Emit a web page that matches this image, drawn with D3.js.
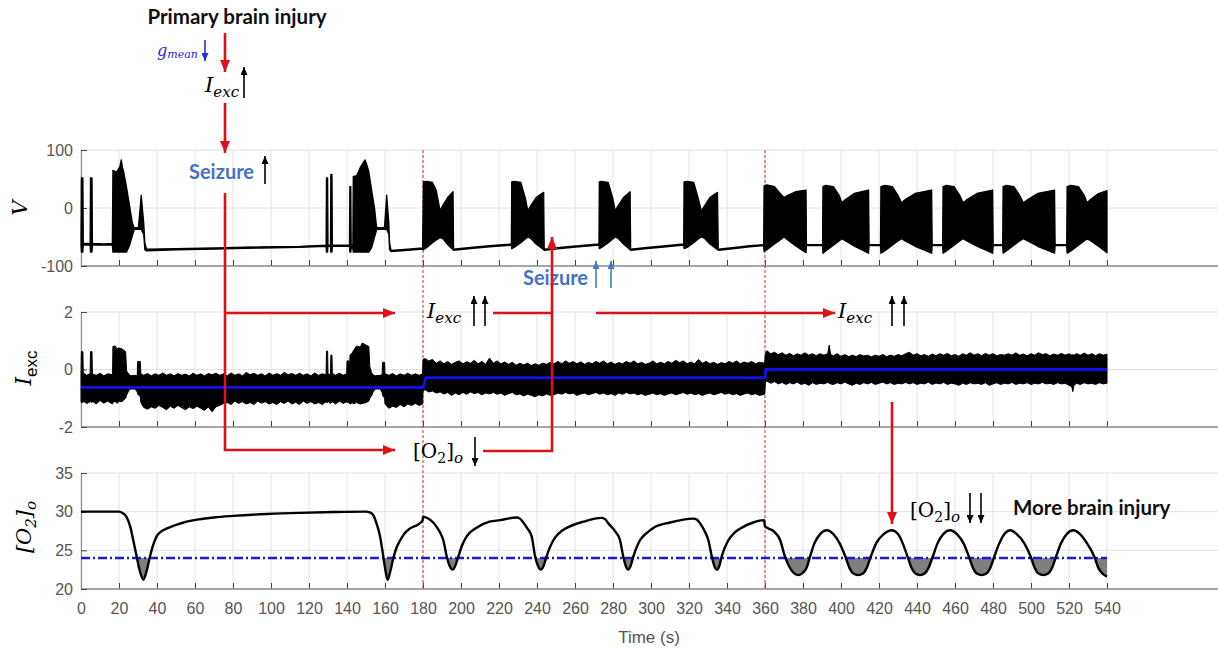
<!DOCTYPE html>
<html><head><meta charset="utf-8">
<script src="https://cdn.jsdelivr.net/npm/d3@7"></script>
<style>body{margin:0;background:#fff}svg{display:block}</style>
</head><body>
<svg id="c" width="1218" height="651"></svg>
<script>
// ---------------- DATA ----------------
const timeTicks = [0,20,40,60,80,100,120,140,160,180,200,220,240,260,280,300,320,340,360,380,400,420,440,460,480,500,520,540];
const vTicks = [-100,0,100];
const iTicks = [-2,0,2];
const o2Ticks = [20,25,30,35];
const phaseMarks = [180,360];
const o2Threshold = 24;

// V trace envelope: [time, upper, lower]
const vEnvelope = [
 [0,-61,-64],[0.2,52,-76],[1.0,52,-76],[1.2,-61,-64],[4.8,-61,-64],[5.0,52,-76],[5.8,52,-76],[6.0,-61,-64],[12,-62,-64],[16.5,-61,-64],
 [16.8,65,-76],[18.5,62,-76],[19.5,66,-76],[20.5,72,-76],[21.2,83,-76],[21.8,70,-76],[22.5,62,-76],[24,35,-76],[25.5,5,-65],[27,-25,-48],[28,-34,-37],
 [30.2,-34,-37],[31.7,22,-37],[33,-25,-45],[33.6,-60,-72],[34.5,-71,-74],
 [50,-70,-72],[70,-69,-71],[95,-67,-69],[115,-66,-68],[129,-64,-66],
 [129.2,52,-76],[129.8,52,-76],[130,-64,-66],[131.3,-64,-66],[131.5,58,-76],[132.1,58,-76],[132.3,-64,-66],
 [138,-64,-66],[141.3,-64,-66],[141.5,37,-76],[142,37,-76],[142.2,-64,-70],[143.1,-64,-70],
 [143.3,54,-76],[145,56,-76],[146,62,-76],[147,70,-76],[148.5,78,-76],[149.5,83,-76],[150.5,74,-76],[151.5,62,-76],[153,30,-68],[154.5,0,-50],[155.6,-34,-37],
 [159.7,-34,-37],[160.9,22,-37],[162,-25,-45],[162.4,-60,-72],[163.2,-73,-75],[172,-71,-73],[179.8,-69,-71],
 [180.2,45,-72],[182,46,-68],[185,44,-60],[187,30,-55],[189,-5,-51],[190.5,5,-53],[193,18,-63],[195.8,28,-72],[196.1,-71,-73],
 [205,-68,-70],[215,-65,-67],[226.5,-62,-64],
 [226.7,45,-70],[228,46,-68],[231.5,44,-60],[234,15,-53],[235.2,-5,-50],[236.5,3,-52],[239.5,18,-62],[243.5,27,-72],[243.8,-71,-73],
 [252,-68,-70],[262,-65,-67],[272.6,-62,-64],
 [272.8,45,-70],[274,46,-68],[277.5,44,-60],[280,15,-53],[281.2,-5,-50],[282.5,3,-52],[285.5,18,-62],[289,28,-72],[289.3,-71,-73],
 [298,-68,-70],[308,-65,-67],[317.2,-62,-64],
 [317.4,45,-70],[319,46,-68],[322.5,44,-60],[325,15,-53],[326.5,-5,-50],[328,3,-52],[331,18,-62],[335,27,-72],[335.4,-71,-73],
 [344,-68,-70],[352,-65,-67],[359.3,-63,-65],
 [359.5,38,-75],[361,40,-72],[365,37,-62],[368,25,-55],[370,18,-50],[372,22,-55],[376,28,-65],[381.6,31,-77],[381.8,-63,-65],
 [390.3,-63,-65],
 [390.5,37,-78],[392,39,-74],[396,37,-64],[399,22,-57],[400.5,9,-53],[402.5,15,-57],[407,25,-66],[414.5,31,-78],[414.8,-63,-65],
 [420.8,-63,-65],
 [421,37,-78],[423,39,-74],[427,37,-64],[430,22,-57],[431.8,9,-53],[434,15,-57],[439,25,-66],[447.7,31,-78],[448,-63,-65],
 [453.5,-63,-65],
 [453.7,37,-78],[455.5,39,-74],[459.5,37,-64],[462.5,22,-57],[464.2,9,-53],[466.5,15,-57],[471.5,25,-66],[479.8,31,-78],[480.1,-63,-65],
 [485.1,-63,-65],
 [485.3,37,-78],[487,39,-74],[491,37,-64],[494,22,-57],[496,9,-53],[498.5,15,-57],[503.5,25,-66],[512.4,31,-78],[512.7,-63,-65],
 [518.8,-63,-65],
 [519,37,-78],[521,39,-74],[525,37,-64],[528,22,-57],[529.5,9,-53],[531.5,15,-57],[535.5,25,-66],[540,30,-77]
];

// I_exc envelope: [time, upper, lower]
const iEnvelope = [
 [0,-0.15,-1.12],[0.2,0.62,-1.15],[1.0,0.62,-1.15],[1.2,-0.12,-1.1],[3,-0.2,-1.18],[4.8,-0.14,-1.12],[5.0,0.62,-1.12],[5.8,0.62,-1.15],[6.0,-0.16,-1.1],[8,-0.2,-1.2],[10,-0.13,-1.08],[12,-0.22,-1.17],[14,-0.15,-1.1],[16.6,-0.18,-1.2],
 [16.8,0.8,-1.15],[18,0.82,-1.1],[19,0.72,-1.18],[20,0.75,-1.1],[21.5,0.72,-1.12],[23.5,0.62,-1.0],[24,-0.05,-0.9],[25,-0.15,-0.75],[26,-0.22,-0.68],[28.5,-0.2,-0.68],[29.6,-0.22,-0.78],[29.8,0.28,-0.85],[31.2,0.28,-0.95],[31.5,-0.15,-1.15],
 [33,-0.2,-1.32],[35,-0.14,-1.38],[37,-0.22,-1.3],[39,-0.15,-1.35],[41,-0.2,-1.25],[43,-0.12,-1.32],[45,-0.2,-1.4],[47,-0.15,-1.28],[49,-0.22,-1.35],[51,-0.14,-1.25],[53,-0.2,-1.33],[55,-0.16,-1.4],[57,-0.22,-1.3],[59,-0.13,-1.36],[61,-0.2,-1.28],[63,-0.15,-1.35],[65,-0.22,-1.42],[67,-0.14,-1.3],[69,-0.18,-1.47],[71,-0.13,-1.3],[73,-0.2,-1.25],[75,-0.15,-1.18],
 [77,-0.22,-1.15],[79,-0.12,-1.22],[81,-0.2,-1.1],[83,-0.15,-1.18],[85,-0.22,-1.12],[87,-0.1,-1.2],[89,-0.18,-1.15],[91,-0.13,-1.22],[93,-0.2,-1.1],[95,-0.15,-1.17],[97,-0.22,-1.12],[99,-0.12,-1.2],[101,-0.2,-1.15],[103,-0.14,-1.22],[105,-0.2,-1.12],[107,-0.1,-1.18],[109,-0.18,-1.1],[111,-0.14,-1.2],[113,-0.2,-1.14],[115,-0.13,-1.22],[117,-0.2,-1.1],[119,-0.15,-1.18],[121,-0.22,-1.12],[123,-0.12,-1.2],[125,-0.2,-1.15],[127,-0.15,-1.22],[129,-0.18,-1.12],
 [129.2,0.64,-1.15],[129.8,0.64,-1.15],[130,-0.15,-1.1],[131.3,-0.18,-1.18],[131.5,0.5,-1.15],[132.1,0.5,-1.15],[132.3,-0.14,-1.12],[134,-0.2,-1.2],[136,-0.13,-1.1],[138,-0.2,-1.18],[139.8,-0.15,-1.12],[140,0.3,-1.15],[141,0.3,-1.15],[141.2,-0.15,-1.18],[141.6,0.5,-1.2],[143,0.6,-1.15],[143.3,0.65,-1.2],[145,0.82,-1.15],[147,0.78,-1.2],[148,0.92,-1.18],[150,0.85,-1.15],[151.5,0.8,-1.1],[152,0.1,-1.0],[153,-0.12,-0.9],[154,-0.2,-0.75],[155,-0.22,-0.68],[157.5,-0.2,-0.68],[158.5,-0.18,-0.8],[158.7,0.25,-0.9],[159.8,0.25,-1.0],[160,-0.15,-1.2],
 [162,-0.2,-1.35],[164,-0.14,-1.28],[166,-0.22,-1.32],[168,-0.15,-1.22],[170,-0.2,-1.3],[172,-0.13,-1.2],[174,-0.2,-1.25],[176,-0.15,-1.18],[178,-0.2,-1.25],[179.8,-0.15,-1.2],
 [180,0.35,-0.75],[181,0.38,-0.7],[183,0.3,-0.78],[185,0.35,-0.75],[187,0.22,-0.82],[189,0.3,-0.78],[191,0.2,-0.85],[193,0.28,-0.8],[195,0.18,-0.9],[197,0.25,-0.82],[199,0.3,-0.88],[201,0.2,-0.8],[203,0.27,-0.86],[205,0.22,-0.78],[207,0.32,-0.84],[209,0.2,-0.8],[211,0.28,-0.88],[213,0.18,-0.82],[215,0.4,-0.85],[217,0.22,-0.8],[219,0.3,-0.86],[221,0.2,-0.82],[223,0.26,-0.9],[225,0.18,-0.84],[227,0.25,-0.8],[229,0.15,-0.88],[231,0.22,-0.85],[233,0.16,-0.92],[235,0.22,-0.86],[237,0.14,-0.9],[239,0.2,-0.95],[241,0.15,-0.88],[243,0.22,-0.92],[245,0.18,-0.85],[247,0.25,-0.9],[249,0.2,-0.88],[251,0.28,-0.82],[253,0.2,-0.86],[255,0.3,-0.8],[257,0.22,-0.85],[259,0.28,-0.82],[261,0.2,-0.9],[263,0.27,-0.85],[265,0.18,-0.82],[267,0.25,-0.88],[269,0.2,-0.84],[271,0.28,-0.8],[273,0.22,-0.86],[275,0.3,-0.82],[277,0.2,-0.88],[279,0.26,-0.84],[281,0.18,-0.9],[283,0.24,-0.82],[285,0.2,-0.86],[287,0.28,-0.8],[289,0.22,-0.85],[291,0.3,-0.82],[293,0.2,-0.88],[295,0.25,-0.84],[297,0.18,-0.9],[299,0.22,-0.86],[301,0.3,-0.82],[303,0.2,-0.88],[305,0.25,-0.84],[307,0.2,-0.9],[309,0.28,-0.85],[311,0.22,-0.82],[313,0.32,-0.88],[315,0.24,-0.84],[317,0.3,-0.8],[319,0.2,-0.86],[321,0.26,-0.82],[323,0.2,-0.88],[325,0.35,-0.84],[327,0.22,-0.9],[329,0.28,-0.85],[331,0.2,-0.82],[333,0.25,-0.88],[335,0.18,-0.84],[337,0.24,-0.8],[339,0.2,-0.86],[341,0.28,-0.82],[343,0.22,-0.88],[345,0.3,-0.84],[347,0.2,-0.9],[349,0.26,-0.85],[351,0.22,-0.82],[353,0.28,-0.88],[355,0.2,-0.84],[357,0.25,-0.9],[359.8,0.22,-0.86],
 [360.2,0.55,-0.45],[361,0.65,-0.4],[363,0.55,-0.48],[365,0.6,-0.42],[367,0.52,-0.5],[369,0.58,-0.45],[371,0.5,-0.52],[373,0.56,-0.46],[375,0.48,-0.5],[377,0.55,-0.44],[379,0.5,-0.52],[381,0.58,-0.48],[383,0.5,-0.55],[385,0.55,-0.46],[387,0.48,-0.52],[389,0.55,-0.48],[391,0.5,-0.5],[393,0.55,-0.45],[393.8,0.85,-0.48],[394.5,0.52,-0.5],[396,0.48,-0.52],[398,0.55,-0.46],[400,0.46,-0.5],[402,0.52,-0.44],[404,0.45,-0.5],[406,0.5,-0.55],[408,0.45,-0.48],[410,0.52,-0.52],[412,0.47,-0.46],[414,0.5,-0.5],[416,0.44,-0.45],[418,0.5,-0.52],[420,0.46,-0.48],[422,0.52,-0.44],[424,0.45,-0.5],[426,0.5,-0.46],[428,0.46,-0.52],[430,0.52,-0.48],[432,0.48,-0.5],[434,0.55,-0.45],[436,0.6,-0.5],[438,0.5,-0.46],[440,0.55,-0.52],[442,0.48,-0.48],[444,0.52,-0.5],[446,0.46,-0.44],[448,0.54,-0.52],[450,0.48,-0.47],[452,0.55,-0.5],[454,0.5,-0.45],[456,0.56,-0.52],[458,0.48,-0.48],[460,0.52,-0.5],[462,0.46,-0.55],[464,0.55,-0.48],[466,0.5,-0.52],[468,0.58,-0.46],[470,0.5,-0.5],[472,0.55,-0.48],[474,0.48,-0.52],[476,0.56,-0.46],[478,0.5,-0.55],[480,0.55,-0.5],[482,0.48,-0.46],[484,0.52,-0.52],[486,0.5,-0.48],[488,0.55,-0.5],[490,0.5,-0.45],[492,0.58,-0.52],[494,0.5,-0.48],[496,0.54,-0.5],[498,0.48,-0.46],[500,0.55,-0.52],[502,0.5,-0.48],[504,0.58,-0.5],[506,0.52,-0.45],[508,0.55,-0.5],[510,0.48,-0.48],[512,0.54,-0.52],[514,0.5,-0.46],[516,0.56,-0.5],[518,0.5,-0.48],[520,0.55,-0.55],[521.5,0.5,-0.6],[522,0.52,-0.77],[522.6,0.5,-0.55],[524,0.55,-0.48],[526,0.5,-0.52],[528,0.57,-0.46],[530,0.5,-0.5],[532,0.55,-0.48],[534,0.48,-0.52],[536,0.55,-0.46],[538,0.5,-0.5],[540,0.53,-0.48]
];

// mean of I_exc (blue line): [time, value]
const iMean = [[0,-0.62],[180,-0.62],[181.5,-0.28],[360,-0.28],[360.3,0],[540,0]];

// extracellular oxygen: [time, value]
const o2Series = [
 [0,30],[20,30],[22,29.8],[24,29.3],[26,28],[27.5,26.3],[29.3,24.2],[31,22.3],[32.8,21.2],[34.5,22.3],[36.3,24.2],[38,25.7],[39.8,26.8],[42,27.4],[45,27.8],[50,28.3],[54,28.6],[62,29.0],[70,29.25],[80,29.45],[98,29.7],[115,29.85],[133,29.95],[150,30],
 [152,29.9],[154,29.5],[155.5,28.5],[157.4,26.8],[159.1,24.2],[160.3,22.3],[161.4,21.2],[162.8,22.3],[164.4,24],[166,25.3],[168,26.3],[170,27.1],[173,27.8],[178.4,28.5],[179.8,28.9],
 [180,29.35],[181,29.3],[184,28.9],[187,28.1],[189,27.3],[190.7,26.3],[192.5,24.2],[194,23],[195.6,22.5],[197,23],[198.6,24.2],[200.5,25.6],[203,26.8],[208,27.9],[215,28.7],[220.5,28.9],[229.3,29.25],
 [231,29.1],[232.8,28.6],[235,27.8],[237.2,26.8],[239,24.2],[240.5,23],[242,22.5],[243.5,23],[245,24.2],[248.6,26.3],[252,27.3],[255.6,27.9],[264.4,28.7],[274,29.2],
 [276,29],[277.5,28.5],[281,27.5],[283.7,26.3],[285.4,24.2],[286.7,23],[288,22.5],[289.3,23],[290.7,24.2],[294.2,26.3],[298,27.3],[301.2,27.9],[310,28.6],[322.3,29.1],
 [324,29],[325.8,28.5],[328,27.6],[330.2,26.3],[332,24.2],[333.3,23],[334.6,22.5],[336,23],[337.2,24.2],[340.7,26.3],[344,27.3],[346.8,27.8],[353.8,28.6],[359.5,28.9],
 [360,28.1],[362,27.8],[364.4,27.5],[368,26.3],[370.5,24.2],[373,22.8],[375,22.1],[377.5,21.8],[380,22.1],[382,22.8],[383.7,24.2],[386,25.9],[389,27.1],[392.5,27.6],[396,27.1],[399.3,25.9],[402.3,24.2],[404.5,22.7],[406.5,22],[409,21.8],[411.5,22],[413.5,22.7],[415.7,24.2],[418.5,25.9],[422.5,27.1],[426.7,27.6],[430,27.1],[432.5,25.9],[435,24.2],[437.2,22.7],[439.2,22],[441.6,21.8],[444,22],[446,22.7],[448.3,24.2],[450.8,25.9],[453.8,27.1],[457.4,27.6],[461,27.1],[464.5,25.9],[467.3,24.2],[469.5,22.7],[471.5,22],[474,21.8],[476.5,22],[478.5,22.7],[480.7,24.2],[483.3,25.9],[486,27.1],[489,27.6],[492.5,27.1],[496.5,25.9],[499.8,24.2],[502,22.7],[504,22],[506.5,21.8],[509,22],[511,22.7],[513.2,24.2],[515.8,25.9],[518.8,27.1],[522.3,27.6],[525.8,27.1],[529.5,25.9],[533.3,24.2],[535.5,22.7],[537.7,22],[540,21.6]
];

// ---------------- LAYOUT ----------------
const W = 1218, H = 651, LEFT = 81, RIGHT = 1218;
const svg = d3.select('#c');
const x = d3.scaleLinear().domain([0,540]).range([LEFT,1107]);
const yV = d3.scaleLinear().domain([-100,100]).range([266,150]);
const yI = d3.scaleLinear().domain([-2,2]).range([427,312]);
const yO = d3.scaleLinear().domain([20,35]).range([589,473]);
const fmt = d => String(d); // plain hyphen-minus, integer labels

const defs = svg.append('defs');
function marker(id, len, wid, color){
  defs.append('marker').attr('id',id).attr('markerUnits','userSpaceOnUse')
    .attr('markerWidth',len).attr('markerHeight',wid).attr('refX',len).attr('refY',wid/2)
    .attr('orient','auto').append('path').attr('d',`M0,0L${len},${wid/2}L0,${wid}Z`).attr('fill',color);
}
const RED = '#e01018';
marker('rh',12,10,RED);
marker('bh',8,7,'#000');
marker('gh',8,7,'#2a2ae0');
marker('sh',8,7,'#4a78c8');

function frame(y, ticks, showLabels){
  const [b,t] = y.range();
  const g = svg.append('g');
  g.selectAll('line.vg').data(timeTicks).join('line').attr('class','vg')
    .attr('x1',d=>x(d)).attr('x2',d=>x(d)).attr('y1',t).attr('y2',b).attr('stroke','#e2e2e2');
  g.selectAll('line.hg').data(ticks).join('line').attr('class','hg')
    .attr('x1',LEFT).attr('x2',RIGHT).attr('y1',d=>y(d)).attr('y2',d=>y(d)).attr('stroke','#e2e2e2');
  const ax = g.append('g').attr('transform',`translate(0,${b})`)
    .call(d3.axisBottom(x).tickValues(timeTicks).tickSizeInner(-6).tickSizeOuter(0).tickPadding(14)
      .tickFormat(showLabels ? fmt : ()=>''));
  ax.select('.domain').remove();
  ax.selectAll('line').attr('stroke','#444');
  ax.selectAll('text').attr('font-size',16).attr('font-family','Liberation Sans, Arial, sans-serif').attr('fill','#555');
  g.append('line').attr('x1',LEFT).attr('x2',RIGHT).attr('y1',b).attr('y2',b).attr('stroke','#8c8c8c').attr('stroke-width',1.6);
  const ay = g.append('g').attr('transform',`translate(${LEFT},0)`)
    .call(d3.axisLeft(y).tickValues(ticks).tickSizeInner(-6).tickSizeOuter(0).tickPadding(8).tickFormat(fmt));
  ay.select('.domain').attr('stroke','#8c8c8c').attr('stroke-width',1.2);
  ay.selectAll('line').attr('stroke','#444');
  ay.selectAll('text').attr('font-size',16).attr('font-family','Liberation Sans, Arial, sans-serif').attr('fill','#555');
}
frame(yV, vTicks, false);
frame(yI, iTicks, false);
frame(yO, o2Ticks, true);

// phase markers (red dotted)
svg.selectAll('line.pm').data(phaseMarks).join('line').attr('class','pm')
  .attr('x1',d=>x(d)).attr('x2',d=>x(d)).attr('y1',yV.range()[1]).attr('y2',yO.range()[0])
  .attr('stroke','#c0392b').attr('stroke-width',1).attr('stroke-dasharray','3,2');

// V panel
const areaV = d3.area().x(d=>x(d[0])).y0(d=>yV(d[2])).y1(d=>yV(d[1]));
svg.append('path').datum(vEnvelope).attr('d',areaV).attr('fill','#000').attr('stroke','#000')
  .attr('stroke-width',1.3).attr('stroke-linejoin','round');

// I_exc panel
const areaI = d3.area().x(d=>x(d[0])).y0(d=>yI(d[2])).y1(d=>yI(d[1]));
svg.append('path').datum(iEnvelope).attr('d',areaI).attr('fill','#000').attr('stroke','#000')
  .attr('stroke-width',1).attr('stroke-linejoin','round');
svg.append('path').datum(iMean).attr('d',d3.line().x(d=>x(d[0])).y(d=>yI(d[1])))
  .attr('fill','none').attr('stroke','#1010f0').attr('stroke-width',2.8);

// O2 panel
defs.append('clipPath').attr('id','below').append('rect')
  .attr('x',LEFT).attr('width',RIGHT-LEFT).attr('y',yO(o2Threshold)).attr('height',yO(20)-yO(o2Threshold));
const areaO = d3.area().x(d=>x(d[0])).y0(yO(o2Threshold)).y1(d=>yO(d[1])).curve(d3.curveMonotoneX);
svg.append('path').datum(o2Series).attr('d',areaO).attr('fill','#7f7f7f').attr('clip-path','url(#below)');
svg.append('line').attr('x1',x(0)).attr('x2',x(540)).attr('y1',yO(o2Threshold)).attr('y2',yO(o2Threshold))
  .attr('stroke','#1a1ad8').attr('stroke-width',2.6).attr('stroke-dasharray','9,3,2,3');
svg.append('path').datum(o2Series).attr('d',d3.line().x(d=>x(d[0])).y(d=>yO(d[1])).curve(d3.curveMonotoneX))
  .attr('fill','none').attr('stroke','#000').attr('stroke-width',2.4);

// Axis titles
const SERIF = 'DejaVu Serif, serif';
svg.append('text').attr('transform','translate(27,208) rotate(-90)').attr('text-anchor','middle')
  .attr('font-family',SERIF).attr('font-style','italic').attr('font-size',21).text('V');
const tI = svg.append('text').attr('transform','translate(31,368) rotate(-90)').attr('text-anchor','middle');
tI.append('tspan').attr('font-family',SERIF).attr('font-style','italic').attr('font-size',22).text('I');
tI.append('tspan').attr('font-family','Liberation Sans, Arial').attr('font-size',17).attr('dy',6).text('exc');
const tO = svg.append('text').attr('transform','translate(31,527) rotate(-90)').attr('text-anchor','middle')
  .attr('font-family',SERIF).attr('font-style','italic').attr('font-size',21);
tO.append('tspan').text('[O');
tO.append('tspan').attr('font-size',15).attr('dy',5).text('2');
tO.append('tspan').attr('dy',-5).text(']');
tO.append('tspan').attr('font-size',15).attr('dy',5).text('o');
svg.append('text').attr('x',649).attr('y',643).attr('text-anchor','middle')
  .attr('font-family','Liberation Sans, Arial').attr('font-size',17).attr('fill','#555').text('Time (s)');

// ---------------- ANNOTATIONS ----------------
function bold(txt, xx, yy, color, size, anchor){
  svg.append('text').attr('x',xx).attr('y',yy).attr('text-anchor',anchor||'start')
    .attr('font-family','Lato, Open Sans, sans-serif').attr('font-weight',700)
    .attr('font-size',size).attr('fill',color).text(txt);
}
function iexc(xx, yy){
  const t = svg.append('text').attr('x',xx).attr('y',yy).attr('font-family',SERIF).attr('font-style','italic');
  t.append('tspan').attr('font-size',21).text('I');
  t.append('tspan').attr('font-size',15).attr('dy',5).text('exc');
}
function o2(xx, yy){
  const t = svg.append('text').attr('x',xx).attr('y',yy).attr('font-family',SERIF).attr('font-size',20);
  t.append('tspan').text('[O');
  t.append('tspan').attr('font-size',14).attr('dy',5).text('2');
  t.append('tspan').attr('dy',-5).text(']');
  t.append('tspan').attr('font-size',15).attr('dy',5).attr('font-style','italic').text('o');
}
function arrow(x1,y1,x2,y2,m,color,w){
  svg.append('line').attr('x1',x1).attr('y1',y1).attr('x2',x2).attr('y2',y2)
    .attr('stroke',color).attr('stroke-width',w).attr('marker-end',`url(#${m})`);
}

bold('Primary brain injury', 237, 24, '#111', 20.5, 'middle');
const gm = svg.append('text').attr('x',157).attr('y',56).attr('font-family',SERIF).attr('font-style','italic').attr('fill','#2a2ae0');
gm.append('tspan').attr('font-size',16).text('g');
gm.append('tspan').attr('font-size',11).attr('dy',2).text('mean');
arrow(205,40,205,61,'gh','#2a2ae0',1.6);
iexc(205,92);
arrow(244,98,244,67,'bh','#000',1.6);
bold('Seizure', 189, 179, '#4472c4', 20);
arrow(265,184,265,156,'bh','#000',1.6);
iexc(427,318);
arrow(474,326,474,296,'bh','#000',1.6);
arrow(485,326,485,296,'bh','#000',1.6);
o2(413,458);
arrow(475,437,475,466,'bh','#000',1.6);
bold('Seizure', 523, 285, '#4472c4', 20);
arrow(596,288,596,261,'sh','#4a78c8',1.6);
arrow(611,288,611,261,'sh','#4a78c8',1.6);
iexc(838,318);
arrow(892,326,892,296,'bh','#000',1.6);
arrow(904,326,904,296,'bh','#000',1.6);
o2(910,517);
arrow(970,493,970,523,'bh','#000',1.6);
arrow(981,493,981,523,'bh','#000',1.6);
bold('More brain injury', 1013, 515, '#111', 20.5);

// red flow arrows
const redPaths = [
  {d:'M225,33V72', head:true},
  {d:'M225,103V153', head:true},
  {d:'M225,193V450H395', head:true},
  {d:'M225,313H395', head:true},
  {d:'M493,313H552', head:false},
  {d:'M483,451H552V237', head:true},
  {d:'M596,313H835', head:true},
  {d:'M892,402V524', head:true}
];
svg.selectAll('path.red').data(redPaths).join('path').attr('class','red')
  .attr('d',d=>d.d).attr('fill','none').attr('stroke',RED).attr('stroke-width',2.6)
  .attr('marker-end',d=>d.head?'url(#rh)':null);
</script>
</body></html>
